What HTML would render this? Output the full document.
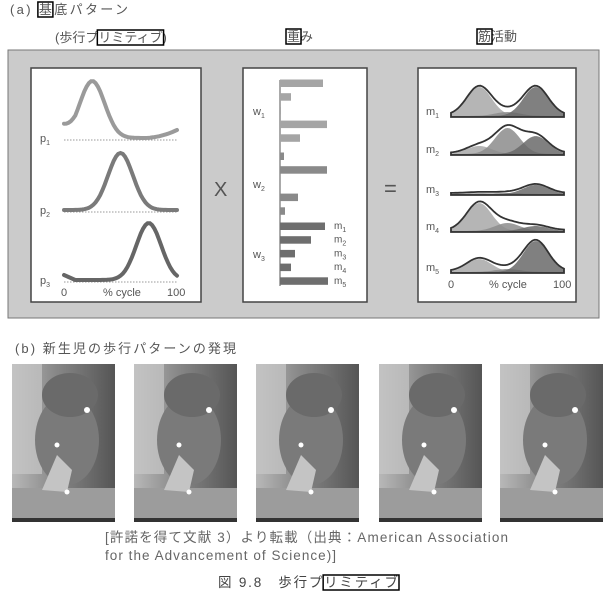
<!DOCTYPE html>
<html><head><meta charset="utf-8">
<style>
body{margin:0;background:#fff;}
svg{display:block;font-family:"Liberation Sans","Noto Sans CJK JP",sans-serif;}
</style></head>
<body>
<svg id="fig" width="604" height="595" viewBox="0 0 604 595">
<defs>
<linearGradient id="ph" x1="0" y1="0" x2="1" y2="0">
<stop offset="0" stop-color="#b8b8b8"/><stop offset="0.4" stop-color="#8a8a8a"/><stop offset="1" stop-color="#555"/>
</linearGradient>
</defs>
<text id="t1" x="10" y="14" font-size="13" fill="#555" textLength="118">(a) 基底パターン</text>
<text id="t2" x="55" y="42" font-size="13" fill="#555">(歩行プリミティブ)</text>
<text id="t3" x="287" y="41" font-size="13" fill="#555">重み</text>
<text id="t4" x="478" y="41" font-size="13" fill="#555">筋活動</text>

<rect x="8" y="50" width="591" height="268" fill="#cbcbcb" stroke="#777" stroke-width="1"/>
<rect x="31" y="68" width="170" height="234" fill="#fff" stroke="#444" stroke-width="1.5"/>
<rect x="243" y="68" width="124" height="234" fill="#fff" stroke="#444" stroke-width="1.5"/>
<rect x="418" y="68" width="158" height="234" fill="#fff" stroke="#444" stroke-width="1.5"/>
<text x="214" y="196" font-size="20" fill="#555">X</text>
<text x="384" y="196" font-size="22" fill="#555">=</text>
<g id="prim"></g><g id="wts"></g><g id="mus"></g>

<text x="15" y="353" font-size="13" fill="#555" textLength="221">(b) 新生児の歩行パターンの発現</text>
<g id="photos"></g>
<text x="105" y="542" font-size="13.5" fill="#666" textLength="403">[許諾を得て文献 3）より転載（出典：American Association</text>
<text x="105" y="560" font-size="13.5" fill="#666" textLength="231">for the Advancement of Science)]</text>
<text id="t5" x="218" y="587" font-size="13.5" fill="#444" textLength="180">図 9.8　歩行プリミティブ</text>
<g id="boxes"></g>
</svg>
<script>
const NS='http://www.w3.org/2000/svg';
const primCenters=[25,50,75];
const primLabels=['p1','p2','p3'];
const weightsW1=[43,11,1,47,20];
const weightsW2=[4,47,0,18,5];
const weightsW3=[45,31,15,11,48];
const muscleLabels=['m1','m2','m3','m4','m5'];
const musP1=[29,8,1,28,13];
const musP2=[4,26,1,8,3];
const musP3=[29,18,9,5,31];

function el(t,a,p){const e=document.createElementNS(NS,t);for(const k in a)e.setAttribute(k,a[k]);p.appendChild(e);return e;}
const g=x=>Math.exp(-((x)*(x))/(2*11*11));

const bx=document.getElementById('boxes');
[['t1',4,4],['t2',4,8],['t3',0,0],['t4',0,0],['t5',9,13]].forEach(([id,a,b])=>{
  const t=document.getElementById(id);
  try{const s=t.getExtentOfChar(a),e=t.getExtentOfChar(b);
  const r=el('rect',{x:s.x-1,y:s.y,width:e.x+e.width-s.x+2,height:s.height,fill:'none',stroke:'#000','stroke-width':1.5},bx);
  }catch(e){}
});

const pg=document.getElementById('prim');
const px=v=>64+v*1.13;
const pBase=[140,212,282], pCol=['#9a9a9a','#7a7a7a','#666'];
primCenters.forEach((c,i)=>{
  const l=el('line',{x1:64,x2:177,y1:pBase[i],y2:pBase[i],stroke:'#777','stroke-dasharray':'1.5 1.5','stroke-width':0.8},pg);
  
  let d='';for(let v=0;v<=100;v+=2){
    let y=pBase[i]-2-57*g(v-c);
    if(i==0) y-=8*Math.max(0,(v-70)/30)**2 + 10*Math.max(0,(10-v)/10);
    if(i==2) y-=5*Math.max(0,(10-v)/10);
    d+=(v?'L':'M')+px(v).toFixed(1)+','+y.toFixed(1);}
  const p=el('path',{d:d,fill:'none',stroke:pCol[i],'stroke-width':4,'stroke-linecap':'round'},pg);
  
  const t=el('text',{x:40,y:pBase[i]+2,'font-size':11,fill:'#555'},pg);t.textContent='p';
  const s=el('tspan',{'font-size':7,dy:3},t);s.textContent=String(i+1);
  
});
[['0',61],['% cycle',103],['100',167]].forEach(([s,x])=>{const t=el('text',{x:x,y:296,'font-size':11,fill:'#555'},pg);t.textContent=s;});

const wg=document.getElementById('wts');
const ax=el('line',{x1:280,x2:280,y1:80,y2:286,stroke:'#555','stroke-width':1},wg);

const groups=[weightsW1,weightsW2,weightsW3], gTop=[83,156,226], gCol=['#a5a5a5','#8a8a8a','#6e6e6e'];
groups.forEach((arr,gi)=>{
  arr.forEach((v,j)=>{
    const r=el('rect',{x:280,y:gTop[gi]+j*13.7-3.5,width:v,height:7.5,fill:gCol[gi]},wg);
    
  });
  const t=el('text',{x:253,y:gTop[gi]+32,'font-size':11,fill:'#555'},wg);t.textContent='w';
  const s=el('tspan',{'font-size':7,dy:3},t);s.textContent=String(gi+1);
  
});
muscleLabels.forEach((m,j)=>{const t=el('text',{x:334,y:gTop[2]+j*13.7+3,'font-size':10,fill:'#555'},wg);t.textContent='m';const s=el('tspan',{'font-size':7,dy:3},t);s.textContent=String(j+1);});

const mg=document.getElementById('mus');
const mx=v=>451+v*1.13;
const mBase=[117,155,195,232,273];
const mCols=['#a8a8a8','#8c8c8c','#6a6a6a'];
muscleLabels.forEach((m,i)=>{
  const hs=[musP1[i],musP2[i],musP3[i]];
  [0,1,2].forEach(k=>{
    let top='';
    for(let v=0;v<=100;v+=2){
      const val=hs[k]*g(v-primCenters[k])+1;
      top+=(v?'L':'M')+mx(v).toFixed(1)+','+(mBase[i]-val).toFixed(1);
    }
    top+='L'+mx(100)+','+mBase[i]+'L'+mx(0)+','+mBase[i]+'Z';
    const p=el('path',{d:top,fill:mCols[k],'fill-opacity':0.85},mg);
    
  });
  let d='';for(let v=0;v<=100;v+=2){let s=0;[0,1,2].forEach(k=>s+=hs[k]*g(v-primCenters[k]));d+=(v?'L':'M')+mx(v).toFixed(1)+','+(mBase[i]-s-2).toFixed(1);}
  d+='L'+mx(100)+','+mBase[i]+'L'+mx(0)+','+mBase[i]+'Z';
  const o=el('path',{d:d,fill:'none',stroke:'#333','stroke-width':1.8},mg);
  
  const t=el('text',{x:426,y:mBase[i]-2,'font-size':11,fill:'#555'},mg);t.textContent='m';
  const s=el('tspan',{'font-size':7,dy:3},t);s.textContent=String(i+1);
  
});
[['0',448],['% cycle',489],['100',553]].forEach(([s,x])=>{const t=el('text',{x:x,y:288,'font-size':11,fill:'#555'},mg);t.textContent=s;});

const ph=document.getElementById('photos');
const photoX=[12,134,256,379,500];
photoX.forEach((x,i)=>{
  const gr=el('g',{},ph);
  el('rect',{x:x,y:364,width:103,height:158,fill:'url(#ph)'},gr);
  el('rect',{x:x,y:364,width:30,height:110,fill:'#c8c8c8','fill-opacity':0.7},gr);
  el('ellipse',{cx:x+55,cy:440,rx:32,ry:45,fill:'#7a7a7a'},gr);
  el('ellipse',{cx:x+58,cy:395,rx:28,ry:22,fill:'#6a6a6a'},gr);
  el('rect',{x:x,y:488,width:103,height:30,fill:'#9c9c9c'},gr);
  el('rect',{x:x,y:518,width:103,height:4,fill:'#333'},gr);
  el('path',{d:`M${x+30},${490} L${x+45},${455} L${x+60},${470} L${x+55},${492} Z`,fill:'#c4c4c4'},gr);
  el('circle',{cx:x+75,cy:410,r:3,fill:'#fff'},gr);
  el('circle',{cx:x+45,cy:445,r:2.5,fill:'#fff'},gr);
  el('circle',{cx:x+55,cy:492,r:2.5,fill:'#fff'},gr);
});
</script>
</body></html>
